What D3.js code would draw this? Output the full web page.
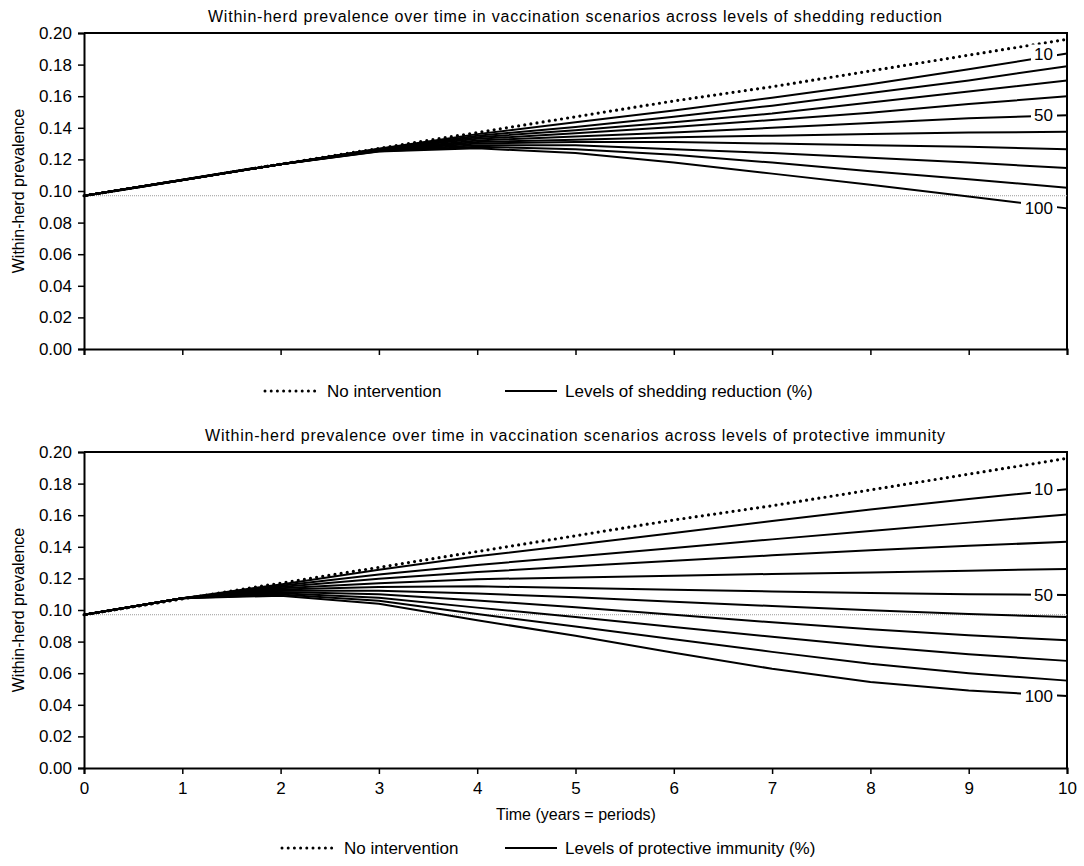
<!DOCTYPE html>
<html>
<head>
<meta charset="utf-8">
<script src="https://cdn.jsdelivr.net/npm/d3@7"></script>
<style>
  body { margin: 0; background: #fff; }
  text { font-family: "Liberation Sans", Arial, sans-serif; fill: #000; }
</style>
</head>
<body>
<svg id="chart" width="1084" height="866"></svg>
<script>
// data
const years = [0, 1, 2, 3, 4, 5, 6, 7, 8, 9, 10];
const yTicks = [0, 0.02, 0.04, 0.06, 0.08, 0.10, 0.12, 0.14, 0.16, 0.18, 0.20];
const baseline = 0.097;
const levels = [10, 20, 30, 40, 50, 60, 70, 80, 90, 100];
const labelledLevels = [10, 50, 100];

const noIntervention = [0.097, 0.107, 0.117, 0.127, 0.137, 0.147, 0.157, 0.166, 0.176, 0.186, 0.196];

// shedding reduction, one row per level (10% .. 100%)
const sheddingValues = [
  [0.097, 0.107, 0.117, 0.1268, 0.136, 0.1435, 0.151, 0.159, 0.1675, 0.177, 0.187],
  [0.097, 0.107, 0.117, 0.1266, 0.135, 0.1405, 0.147, 0.154, 0.162, 0.170, 0.179],
  [0.097, 0.107, 0.117, 0.1264, 0.134, 0.1385, 0.1435, 0.149, 0.156, 0.163, 0.170],
  [0.097, 0.107, 0.117, 0.1262, 0.133, 0.1365, 0.1405, 0.145, 0.1495, 0.155, 0.160],
  [0.097, 0.107, 0.117, 0.1260, 0.132, 0.1345, 0.137, 0.140, 0.143, 0.146, 0.148],
  [0.097, 0.107, 0.117, 0.1258, 0.131, 0.1325, 0.134, 0.135, 0.136, 0.137, 0.1375],
  [0.097, 0.107, 0.117, 0.1256, 0.130, 0.131, 0.131, 0.130, 0.129, 0.128, 0.1265],
  [0.097, 0.107, 0.117, 0.1254, 0.129, 0.129, 0.1265, 0.124, 0.121, 0.118, 0.1145],
  [0.097, 0.107, 0.117, 0.1252, 0.128, 0.1265, 0.123, 0.118, 0.1125, 0.1075, 0.102],
  [0.097, 0.107, 0.117, 0.1250, 0.127, 0.124, 0.118, 0.111, 0.104, 0.0965, 0.089]
];

// protective immunity, one row per level (10% .. 100%)
const immunityValues = [
  [0.097, 0.1075, 0.1162, 0.1255, 0.134, 0.1413, 0.1488, 0.1563, 0.1636, 0.1703, 0.1765],
  [0.097, 0.1075, 0.1154, 0.1225, 0.1285, 0.1338, 0.1392, 0.1447, 0.150, 0.1553, 0.1605],
  [0.097, 0.1075, 0.1146, 0.1198, 0.124, 0.1277, 0.1312, 0.1346, 0.1378, 0.1406, 0.1432],
  [0.097, 0.1075, 0.1138, 0.1170, 0.1195, 0.1206, 0.1217, 0.1228, 0.1238, 0.1249, 0.126],
  [0.097, 0.1075, 0.1130, 0.1145, 0.115, 0.1139, 0.1128, 0.1117, 0.1107, 0.110, 0.1095],
  [0.097, 0.1075, 0.1122, 0.1122, 0.1105, 0.108, 0.1053, 0.1025, 0.0998, 0.0975, 0.0955],
  [0.097, 0.1075, 0.1114, 0.1100, 0.106, 0.1018, 0.097, 0.0922, 0.0878, 0.084, 0.0808],
  [0.097, 0.1075, 0.1106, 0.1078, 0.1015, 0.0955, 0.0893, 0.083, 0.077, 0.072, 0.0678],
  [0.097, 0.1075, 0.1098, 0.1058, 0.0975, 0.0895, 0.0815, 0.0735, 0.066, 0.060, 0.0553],
  [0.097, 0.1075, 0.1090, 0.1040, 0.0935, 0.0837, 0.073, 0.0628, 0.0545, 0.049, 0.0455]
];

const svg = d3.select("#chart");

const x = d3.scaleLinear().domain([0, 10]).range([84, 1067]);

const line = y => d3.line()
  .x((d, i) => x(years[i]))
  .y(d => y(d));

function drawPanel(opts) {
  const y = d3.scaleLinear().domain([0, 0.2]).range([opts.bottom, opts.top]);
  const g = svg.append("g");

  // title
  g.append("text")
    .attr("x", opts.titleX)
    .attr("y", opts.top - 11)
    .attr("textLength", opts.titleW)
    .attr("lengthAdjust", "spacing")
    .style("font-size", "16px")
    .text(opts.title);

  // y axis
  const yAxis = g.append("g")
    .attr("transform", `translate(${x(0)},0)`)
    .call(d3.axisLeft(y).tickValues(yTicks).tickFormat(d3.format(".2f")).tickSize(6).tickPadding(6));
  yAxis.select(".domain").attr("stroke-width", 2);
  yAxis.selectAll(".tick line").attr("stroke-width", 1.5);
  yAxis.selectAll("text").style("font-size", "17px").style("font-family", "Liberation Sans, Arial, sans-serif");

  // x axis
  const xAxis = g.append("g")
    .attr("transform", `translate(0,${opts.bottom})`)
    .call(d3.axisBottom(x).tickValues(years).tickSize(6).tickPadding(8)
      .tickFormat(opts.xLabels ? d3.format("d") : ""));
  xAxis.select(".domain").attr("stroke-width", 2);
  xAxis.selectAll(".tick line").attr("stroke-width", 1.5);
  xAxis.selectAll("text").style("font-size", "17px").style("font-family", "Liberation Sans, Arial, sans-serif");

  // frame top + right
  g.append("path")
    .attr("d", `M${x(0)},${y(0.2)}H${x(10)}V${y(0)}`)
    .attr("fill", "none")
    .attr("stroke", "#000")
    .attr("stroke-width", 2);

  // y title
  g.append("text")
    .attr("transform", `translate(24,${(opts.top + opts.bottom) / 2}) rotate(-90)`)
    .attr("text-anchor", "middle")
    .style("font-size", "16px")
    .text("Within-herd prevalence");

  // starting prevalence reference
  g.append("line")
    .attr("x1", x(0)).attr("x2", x(10))
    .attr("y1", y(baseline)).attr("y2", y(baseline))
    .attr("stroke", "#999")
    .attr("stroke-width", 1)
    .attr("stroke-dasharray", "1,1");

  // scenario lines
  g.selectAll(".level")
    .data(opts.values)
    .join("path")
    .attr("class", "level")
    .attr("fill", "none")
    .attr("stroke", "#000")
    .attr("stroke-width", 2)
    .attr("stroke-linejoin", "round")
    .attr("d", d => line(y)(d));

  g.append("path")
    .attr("fill", "none")
    .attr("stroke", "#000")
    .attr("stroke-width", 3.2)
    .attr("stroke-linecap", "round")
    .attr("stroke-dasharray", "0,6.2")
    .attr("d", line(y)(noIntervention));

  // in-line labels for 10, 50, 100
  labelledLevels.forEach(lv => {
    const row = opts.values[levels.indexOf(lv)];
    const yv = y(row[row.length - 1]);
    const w = lv === 100 ? 36 : 26;
    g.append("rect")
      .attr("x", 1057 - w).attr("y", yv - 9)
      .attr("width", w).attr("height", 18)
      .attr("fill", "#fff");
    g.append("text")
      .attr("x", 1053)
      .attr("y", yv + 6)
      .attr("text-anchor", "end")
      .style("font-size", "17px")
      .text(lv);
  });

  // x title
  if (opts.xTitle) {
    g.append("text")
      .attr("x", 576)
      .attr("y", opts.bottom + 52)
      .attr("text-anchor", "middle")
      .style("font-size", "16px")
      .text(opts.xTitle);
  }

  // legend
  const lg = g.append("g").attr("transform", `translate(0,${opts.legendY})`);
  lg.append("line")
    .attr("x1", opts.legendX).attr("x2", opts.legendX + 52)
    .attr("stroke", "#000").attr("stroke-width", 3)
    .attr("stroke-linecap", "round").attr("stroke-dasharray", "0,6.2");
  lg.append("text")
    .attr("x", opts.legendX + 62).attr("y", 6)
    .style("font-size", "17px")
    .text("No intervention");
  lg.append("line")
    .attr("x1", opts.solidX).attr("x2", opts.solidX + 52)
    .attr("stroke", "#000").attr("stroke-width", 2);
  lg.append("text")
    .attr("x", opts.solidX + 60).attr("y", 6)
    .style("font-size", "17px")
    .text(opts.legendLabel);
}

drawPanel({
  top: 33, bottom: 349,
  title: "Within-herd prevalence over time in vaccination scenarios across levels of shedding reduction",
  titleX: 208, titleW: 734,
  values: sheddingValues,
  xLabels: false,
  legendY: 391, legendX: 265, solidX: 505,
  legendLabel: "Levels of shedding reduction (%)"
});

drawPanel({
  top: 452, bottom: 768,
  title: "Within-herd prevalence over time in vaccination scenarios across levels of protective immunity",
  titleX: 205, titleW: 740,
  values: immunityValues,
  xLabels: true,
  xTitle: "Time (years = periods)",
  legendY: 848, legendX: 282, solidX: 505,
  legendLabel: "Levels of protective immunity (%)"
});
</script>
</body>
</html>
